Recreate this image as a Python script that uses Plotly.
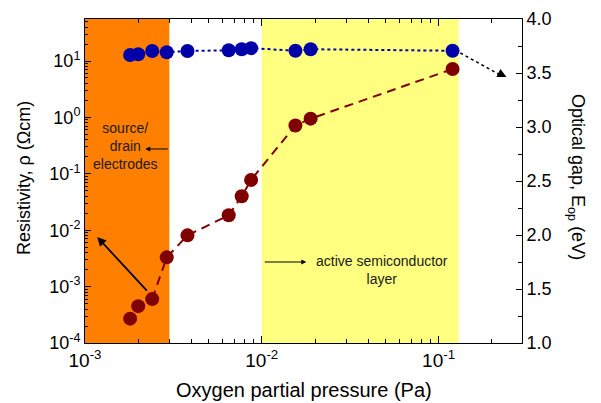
import numpy as np
import plotly.graph_objects as go

# ---- data ----
pressure_pa = [0.0018, 0.0020, 0.0024, 0.0029, 0.0038, 0.0065, 0.0077, 0.0087, 0.0155, 0.0189, 0.120]
resistivity = [2.7e-4, 4.5e-4, 6.0e-4, 3.3e-3, 8.1e-3, 1.84e-2, 4.0e-2, 7.8e-2, 0.72, 0.95, 7.2]
optical_gap = [3.667, 3.673, 3.704, 3.692, 3.704, 3.71, 3.72, 3.73, 3.706, 3.72, 3.706]

x_tick_vals = [1e-3, 1e-2, 1e-1]
x_tick_text = ["10<sup>-3</sup>", "10<sup>-2</sup>", "10<sup>-1</sup>"]
y_tick_vals = [1e-4, 1e-3, 1e-2, 1e-1, 1e0, 1e1]
y_tick_text = ["10<sup>-4</sup>", "10<sup>-3</sup>", "10<sup>-2</sup>", "10<sup>-1</sup>", "10<sup>0</sup>", "10<sup>1</sup>"]
y2_tick_vals = [1.0, 1.5, 2.0, 2.5, 3.0, 3.5, 4.0]

electrode_region = [1e-3, 3e-3]
semiconductor_region = [1e-2, 0.13]

FONT = "Arial, Liberation Sans, sans-serif"
RED = "#800000"
BLUE = "#0000A8"

fig = go.Figure()

# resistivity: dashed line from 3rd point on, markers for all
fig.add_trace(go.Scatter(x=pressure_pa[2:], y=resistivity[2:], mode="lines",
                         line=dict(color=RED, width=2, dash="9px,6px"),
                         hoverinfo="skip", showlegend=False))
fig.add_trace(go.Scatter(x=pressure_pa, y=resistivity, mode="markers",
                         marker=dict(color=RED, size=14), showlegend=False))
# optical gap on right axis
fig.add_trace(go.Scatter(x=pressure_pa, y=optical_gap, mode="lines+markers", yaxis="y2",
                         line=dict(color=BLUE, width=2, dash="3px,3px"),
                         marker=dict(color=BLUE, size=14), showlegend=False))

# shaded regions
fig.add_shape(type="rect", xref="x", yref="paper", x0=electrode_region[0], x1=electrode_region[1],
              y0=0, y1=1, fillcolor="#FF8000", line_width=0, layer="below")
fig.add_shape(type="rect", xref="x", yref="paper", x0=semiconductor_region[0], x1=semiconductor_region[1],
              y0=0, y1=1, fillcolor="#FFFF80", line_width=0, layer="below")

# dotted arrow towards right axis
fig.add_shape(type="line", xref="x", yref="y2", x0=0.1328, y0=3.685, x1=0.2238, y1=3.481,
              line=dict(color="black", width=1.5, dash="3px,3px"))
fig.add_annotation(x=-0.616, y=3.463, xref="x", yref="y2", ax=-8, ay=-4, text="",
                   showarrow=True, arrowhead=2, arrowsize=1.2, arrowwidth=1.5, arrowcolor="black")

# annotations
fig.add_annotation(x=-2.7725, y=-0.507, xref="x", yref="y", text="source/<br>drain<br>electrodes",
                   showarrow=False, font=dict(family=FONT, size=14, color="#1a1a1a"), align="center")
fig.add_annotation(x=-2.659, y=-0.560, xref="x", yref="y", ax=24, ay=0, text="",
                   showarrow=True, arrowhead=2, arrowsize=1, arrowwidth=1, arrowcolor="black")
fig.add_annotation(x=-2.931, y=-2.121, xref="x", yref="y", ax=51, ay=55, text="",
                   showarrow=True, arrowhead=2, arrowsize=1, arrowwidth=1.8, arrowcolor="black")
fig.add_annotation(x=-1.748, y=-2.564, xref="x", yref="y", ax=-43, ay=0, text="",
                   showarrow=True, arrowhead=2, arrowsize=1, arrowwidth=1, arrowcolor="black")
fig.add_annotation(x=-1.320, y=-2.706, xref="x", yref="y", text="active semiconductor<br>layer",
                   showarrow=False, font=dict(family=FONT, size=14, color="#1a1a1a"), align="center")

# axis titles
fig.add_annotation(x=0.5, y=-0.145, xref="paper", yref="paper", text="Oxygen partial pressure (Pa)",
                   showarrow=False, font=dict(family=FONT, size=20, color="black"),
                   xanchor="center", yanchor="middle")
fig.add_annotation(x=-0.1396, y=0.509, xref="paper", yref="paper", text="Resistivity, ρ (Ωcm)",
                   showarrow=False, textangle=-90, font=dict(family=FONT, size=18, color="black"),
                   xanchor="center", yanchor="middle")
fig.add_annotation(x=1.126, y=0.512, xref="paper", yref="paper", text="Optical gap, E<sub>op</sub> (eV)",
                   showarrow=False, textangle=90, font=dict(family=FONT, size=18, color="black"),
                   xanchor="center", yanchor="middle")

fig.update_layout(
    width=601, height=403,
    margin=dict(l=85, r=79, t=19, b=60),
    paper_bgcolor="white", plot_bgcolor="rgba(0,0,0,0)",
    font=dict(family=FONT, size=18, color="black"),
    hovermode=False,
    xaxis=dict(type="log", range=[-3, -0.528], tickvals=x_tick_vals, ticktext=x_tick_text,
               ticks="inside", ticklen=7, tickcolor="black", showline=True, linecolor="black",
               linewidth=1, mirror="ticks", showgrid=False, zeroline=False, automargin=False,
               minor=dict(ticks="inside", ticklen=4, tickcolor="black", dtick="D1", showgrid=False),
               tickfont=dict(size=19)),
    yaxis=dict(type="log", range=[-4, 1.745], tickvals=y_tick_vals, ticktext=y_tick_text,
               ticks="inside", ticklen=6, tickcolor="black", showline=True, linecolor="black",
               linewidth=1, showgrid=False, zeroline=False, automargin=False,
               minor=dict(ticks="inside", ticklen=3, tickcolor="black", dtick="D1", showgrid=False),
               tickfont=dict(size=18)),
    yaxis2=dict(overlaying="y", side="right", range=[1, 4], tickvals=y2_tick_vals, tickformat=".1f",
                ticks="inside", ticklen=6, tickcolor="black", showline=True, linecolor="black",
                linewidth=1, showgrid=False, zeroline=False, automargin=False,
                minor=dict(ticks="inside", ticklen=4, tickcolor="black", dtick=0.25, showgrid=False),
                tickfont=dict(size=18)),
)

# remove the default 8px page margin so the figure sits at the window's top-left corner
fig.write_html("out.html", config={"displayModeBar": False},
               post_script="document.body.style.margin='0px';")
